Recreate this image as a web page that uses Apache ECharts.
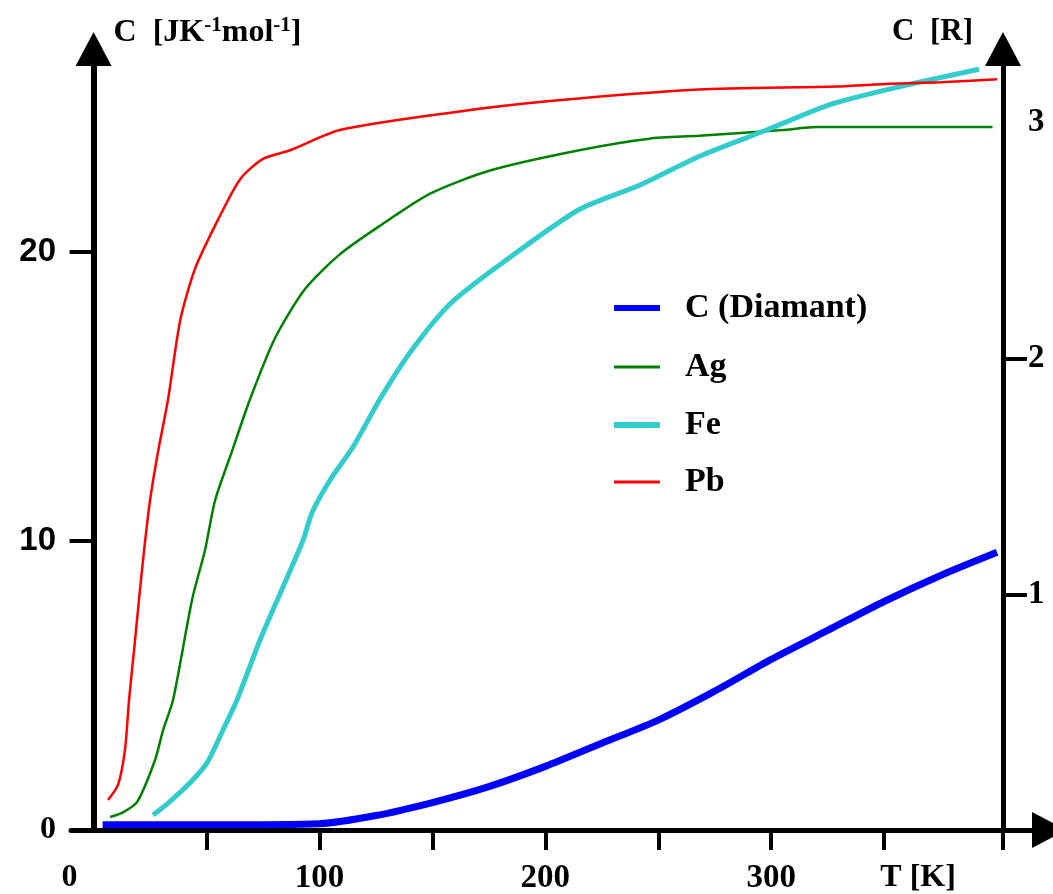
<!DOCTYPE html>
<html>
<head>
<meta charset="utf-8">
<script src="https://cdn.jsdelivr.net/npm/echarts@6/dist/echarts.min.js"></script>
<style>
html,body{margin:0;padding:0;background:#fff;}
#chart{width:1053px;height:894px;}
</style>
</head>
<body>
<div id="chart"></div>
<script>
// ---- data (T in K, C in J K^-1 mol^-1) ----
const seriesNames = ['C (Diamant)', 'Ag', 'Fe', 'Pb'];

const diamondT = [4, 50, 100, 125, 150, 175, 200, 225, 250, 275, 300, 325, 350, 375, 400];
const diamondC = [0.18, 0.18, 0.22, 0.5, 0.95, 1.5, 2.2, 3.0, 3.8, 4.8, 5.9, 6.9, 7.9, 8.8, 9.6];

const agT = [7.3, 12.6, 19.3, 27.2, 30.8, 35.2, 43.6, 49.4, 53.8, 61.3, 69.3, 80.3, 93.6, 109, 127, 149, 175.5, 215, 246, 268, 305, 320, 398];
const agC = [0.45, 0.59, 0.97, 2.42, 3.46, 4.5, 7.96, 9.7, 11.4, 13.1, 14.9, 17.0, 18.7, 19.9, 20.9, 22.0, 22.8, 23.5, 23.9, 24.0, 24.2, 24.3, 24.3];

const feT = [26.3, 33, 42.7, 50.2, 57.3, 63.5, 73.7, 83.9, 92.8, 96.7, 104.7, 114.9, 126.8, 141, 158, 180, 215, 242, 268.5, 298, 327, 357, 392];
const feC = [0.52, 0.93, 1.63, 2.32, 3.46, 4.5, 6.57, 8.41, 10.03, 10.97, 12.1, 13.25, 14.9, 16.6, 18.2, 19.55, 21.45, 22.3, 23.3, 24.2, 25.1, 25.7, 26.3];

const pbT = [6.4, 10.8, 13.9, 15.7, 17.9, 20.1, 22.4, 25.0, 28.6, 33.0, 38.3, 44.9, 55.1, 64.9, 75.0, 87.0, 109, 158, 202, 268, 329, 352.6, 374.7, 400];
const pbC = [1.04, 1.56, 2.77, 4.5, 6.2, 7.96, 9.7, 11.4, 13.1, 14.9, 17.6, 19.4, 21.1, 22.5, 23.2, 23.5, 24.2, 24.8, 25.2, 25.6, 25.7, 25.8, 25.85, 25.95];

// tick / label values
const xTickValues = [50, 100, 150, 200, 250, 300, 350, 402.6];
const xLabelValues = [0, 100, 200, 300, 350];
const yTickValues = [10, 20];
const yLabelValues = [0, 10, 20];
const rTickValues = [1, 2];
const rLabelValues = [1, 2, 3];
const jPerR = 8.15; // spacing of the right axis as drawn

const colors = ['#0000FF', '#008000', '#33CCCC', '#FF0000'];
const widths = [7, 2.5, 5, 2.5];
const legendIconHeights = [6, 3, 6, 3];
const legendCenters = [303, 362, 420, 477];

function pairs(t, c) { return t.map((v, i) => [v, c[i]]); }
const dataSets = [pairs(diamondT, diamondC), pairs(agT, agC), pairs(feT, feC), pairs(pbT, pbC)];

const serif = 'Liberation Serif';
const sans = 'Liberation Sans';

const chart = echarts.init(document.getElementById('chart'), null, {renderer: 'canvas'});
const yMax = 27;
const legendFont = 34;

const option = {
  backgroundColor: '#ffffff',
  animation: false,
  grid: {left: 71, right: 4, top: 49, bottom: 64, containLabel: false, outerBoundsMode: 'none'},
  legend: seriesNames.map((name, i) => ({
    orient: 'vertical',
    left: 609, top: legendCenters[i] - legendFont / 2,
    icon: 'rect',
    itemWidth: 46, itemHeight: legendIconHeights[i], itemGap: 0,
    data: [name],
    textStyle: {fontFamily: serif, fontWeight: 'bold', fontSize: legendFont, color: '#000', lineHeight: legendFont, padding: [0, 0, 0, 20]}
  })),
  xAxis: {
    type: 'value', min: -10, max: 423,
    axisLine: {onZero: false, lineStyle: {color: '#000', width: 5}, symbol: ['none', 'triangle'], symbolSize: [36, 34]},
    axisTick: {show: true, inside: false, length: 20, lineStyle: {color: '#000', width: 4}, customValues: xTickValues},
    axisLabel: {
      customValues: xLabelValues, margin: 32,
      formatter: function (v) {
        if (v === 0) return '{z|0}';
        if (v === 350) return '{t|T [K]}';
        return '{n|' + v + '}';
      },
      rich: {
        n: {fontFamily: serif, fontWeight: 'bold', fontSize: 33, color: '#000'},
        z: {fontFamily: serif, fontWeight: 'bold', fontSize: 32, color: '#000', padding: [0, 48, 0, 0]},
        t: {fontFamily: serif, fontWeight: 'bold', fontSize: 32, color: '#000', padding: [0, 0, 0, 68]}
      }
    },
    splitLine: {show: false}
  },
  yAxis: [
    {
      type: 'value', min: 0, max: yMax, position: 'left',
      axisLine: {onZero: true, lineStyle: {color: '#000', width: 6}, symbol: ['none', 'triangle'], symbolSize: [36, 34]},
      axisTick: {show: true, inside: false, length: 24, lineStyle: {color: '#000', width: 4}, customValues: yTickValues},
      axisLabel: {
        customValues: yLabelValues, margin: 15,
        formatter: function (v) { return v === 0 ? '{s|0}' : '{a|' + v + '}'; },
        rich: {
          s: {fontFamily: serif, fontWeight: 'bold', fontSize: 32, color: '#000'},
          a: {fontFamily: sans, fontWeight: 'bold', fontSize: 33, color: '#000'}
        }
      },
      splitLine: {show: false},
      name: '{m|C  [JK}{sup|-1}{m|mol}{sup|-1}{m|]}',
      nameLocation: 'end', nameGap: 17, nameMoveOverlap: false,
      nameTextStyle: {
        align: 'left', verticalAlign: 'middle', padding: [0, 0, 0, 20],
        rich: {
          m: {fontFamily: serif, fontWeight: 'bold', fontSize: 32, color: '#000', verticalAlign: 'bottom'},
          sup: {fontFamily: serif, fontWeight: 'bold', fontSize: 21, color: '#000', verticalAlign: 'top', padding: [0, 0, 12, 0]}
        }
      }
    },
    {
      type: 'value', min: 0, max: yMax / jPerR, position: 'right', offset: -46,
      axisLine: {onZero: false, lineStyle: {color: '#000', width: 5}, symbol: ['none', 'triangle'], symbolSize: [36, 34]},
      axisTick: {show: true, inside: false, length: 24, lineStyle: {color: '#000', width: 4}, customValues: rTickValues},
      axisLabel: {customValues: rLabelValues, margin: 25, fontFamily: serif, fontWeight: 'bold', fontSize: 33, color: '#000'},
      splitLine: {show: false},
      name: 'C  [R]', nameLocation: 'end', nameGap: 17, nameMoveOverlap: false,
      nameTextStyle: {align: 'right', verticalAlign: 'middle', padding: [0, 30, 0, 0], fontFamily: serif, fontWeight: 'bold', fontSize: 31, color: '#000'}
    }
  ],
  series: seriesNames.map((name, i) => ({
    name: name,
    type: 'line',
    xAxisIndex: 0, yAxisIndex: 0,
    data: dataSets[i],
    smooth: 0.25,
    symbol: 'none',
    color: colors[i],
    lineStyle: {color: colors[i], width: widths[i]},
    z: 3 + i
  }))
};
chart.setOption(option);
</script>
</body>
</html>
